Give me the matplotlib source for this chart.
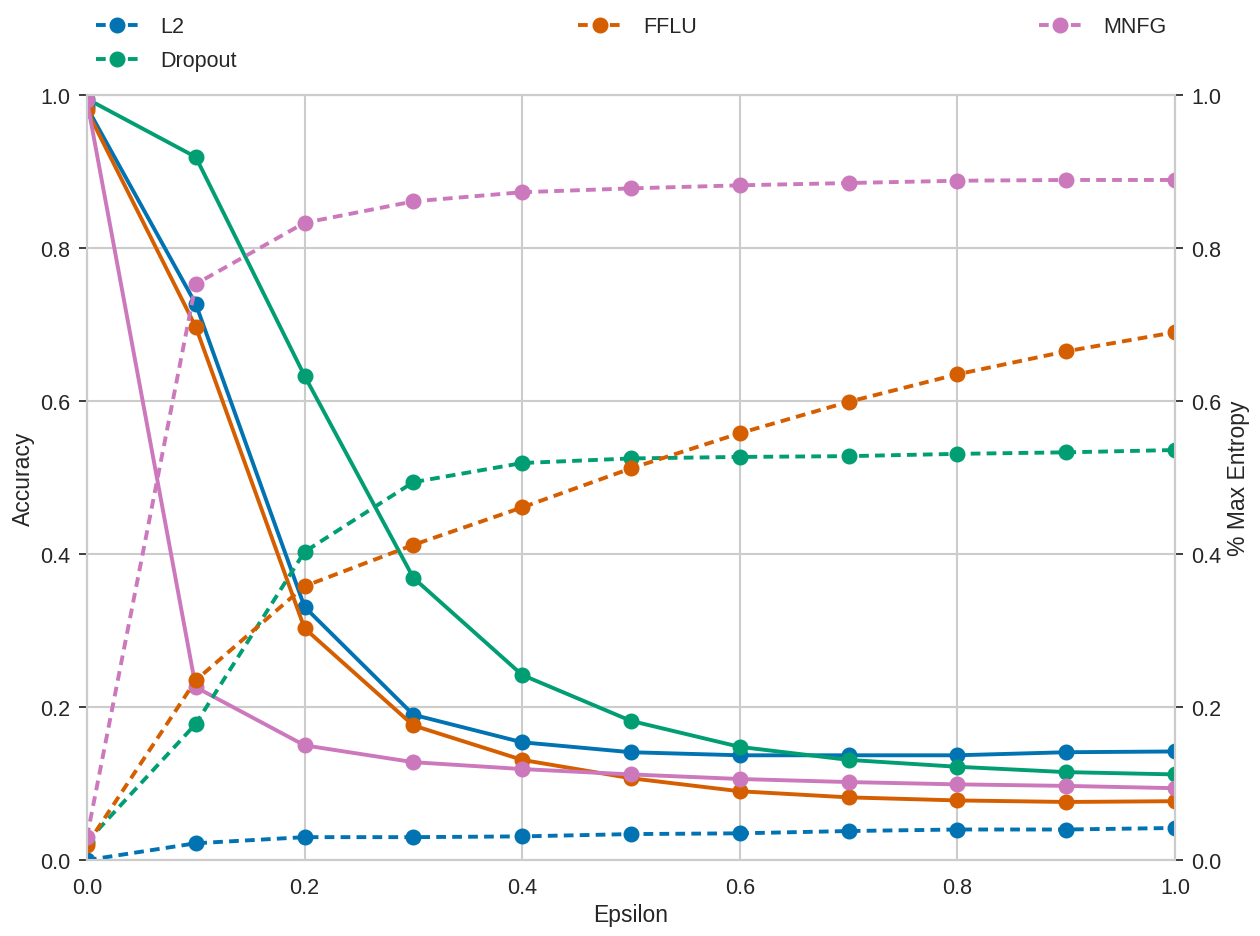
import matplotlib
matplotlib.use("Agg")
import matplotlib.pyplot as plt
import seaborn as sns
import numpy as np

sns.set_theme(style="whitegrid")
plt.rcParams['font.family'] = ['Liberation Sans', 'DejaVu Sans']

epsilon = [0.0, 0.1, 0.2, 0.3, 0.4, 0.5, 0.6, 0.7, 0.8, 0.9, 1.0]
methods = ["L2", "Dropout", "FFLU", "MNFG"]
colors = {"L2": "#0173B2", "Dropout": "#029E73", "FFLU": "#D55E00", "MNFG": "#CC78BC"}

acc_l2 = [0.984, 0.727, 0.331, 0.190, 0.154, 0.141, 0.137, 0.137, 0.137, 0.141, 0.142]
acc_fflu = [0.980, 0.697, 0.303, 0.176, 0.131, 0.107, 0.090, 0.082, 0.078, 0.076, 0.077]
acc_dropout = [0.995, 0.919, 0.633, 0.369, 0.242, 0.182, 0.148, 0.131, 0.122, 0.115, 0.112]
acc_mnfg = [0.993, 0.226, 0.150, 0.128, 0.119, 0.112, 0.106, 0.102, 0.099, 0.097, 0.094]

ent_l2 = [0.000, 0.022, 0.030, 0.030, 0.031, 0.034, 0.035, 0.038, 0.040, 0.040, 0.042]
ent_fflu = [0.020, 0.235, 0.358, 0.412, 0.461, 0.512, 0.558, 0.599, 0.635, 0.665, 0.690]
ent_dropout = [0.024, 0.178, 0.403, 0.494, 0.519, 0.525, 0.527, 0.528, 0.531, 0.533, 0.536]
ent_mnfg = [0.030, 0.753, 0.833, 0.861, 0.873, 0.878, 0.882, 0.885, 0.888, 0.889, 0.889]

acc = {"L2": acc_l2, "Dropout": acc_dropout, "FFLU": acc_fflu, "MNFG": acc_mnfg}
ent = {"L2": ent_l2, "Dropout": ent_dropout, "FFLU": ent_fflu, "MNFG": ent_mnfg}

fig = plt.figure(figsize=(12.6, 9.37), dpi=100)
ax = fig.add_axes([0.069, 0.081, 0.8635, 0.8165])
ax2 = ax.twinx()

lw = 2.8
ms = 10.5
fs = 15.5
for m in methods:
    ax.plot(epsilon, acc[m], '-o', color=colors[m], lw=lw, ms=ms)
handles = {}
for m in methods:
    h, = ax2.plot(epsilon, ent[m], '--o', color=colors[m], lw=lw, ms=ms,
                  dashes=(2.5, 1.6), label=m)
    handles[m] = h

for a in (ax, ax2):
    a.set_xlim(0, 1)
    a.set_ylim(0, 1)
    a.set_yticks([0, 0.2, 0.4, 0.6, 0.8, 1.0])
    a.set_yticklabels(["0.0", "0.2", "0.4", "0.6", "0.8", "1.0"])
    a.tick_params(labelsize=fs, colors='#262626', pad=6)
    for s in a.spines.values():
        s.set_color('#cccccc')
        s.set_linewidth(1.5)
ax.set_xticks([0, 0.2, 0.4, 0.6, 0.8, 1.0])
ax.set_xticklabels(["0.0", "0.2", "0.4", "0.6", "0.8", "1.0"])
ax2.grid(False)
ax.grid(True, color='#cccccc', lw=1.5)
ax.set_xlabel("Epsilon", fontsize=fs + 1, color='#262626', labelpad=4)
ax.set_ylabel("Accuracy", fontsize=fs + 1, color='#262626', labelpad=4)
ax2.set_ylabel("% Max Entropy", fontsize=fs + 1, color='#262626', labelpad=4)

ax2.legend([handles[m] for m in methods], methods, ncol=3, mode="expand",
           loc="lower left", bbox_to_anchor=(0, 1.02, 1, 0.102), frameon=False,
           fontsize=fs, borderaxespad=0., handlelength=2.0, handletextpad=1.0,
           labelspacing=0.6)

fig.savefig("out.png", dpi=100)
